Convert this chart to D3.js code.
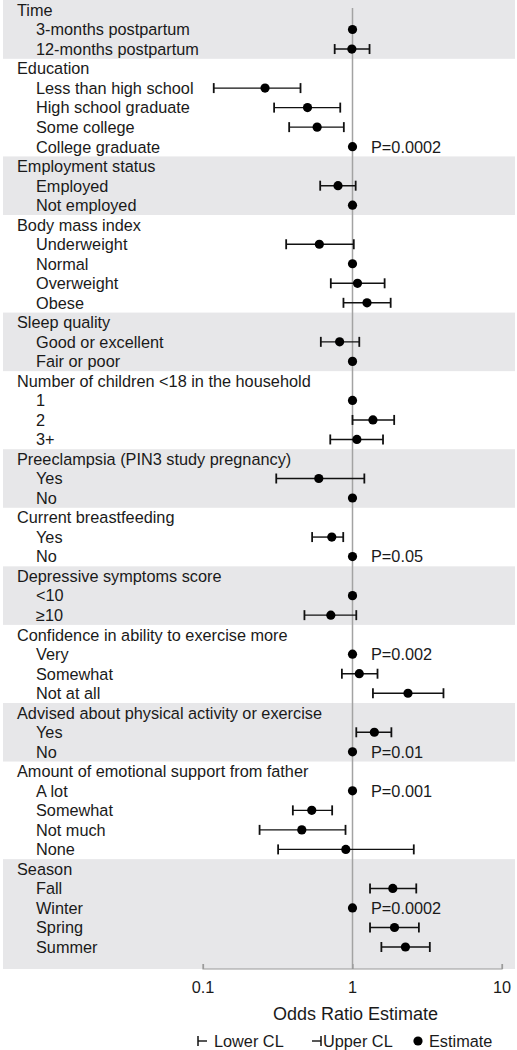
<!DOCTYPE html>
<html><head><meta charset="utf-8">
<script src="https://cdn.jsdelivr.net/npm/d3@7"></script>
<style>
html,body{margin:0;padding:0;background:#fff;}
svg{display:block;font-family:"Liberation Sans",Arial,sans-serif;}
</style></head>
<body><svg id="chart" width="517" height="1050"></svg>
<script>
// Groups (headers) and their items
const groups = [
  "Time","Education","Employment status","Body mass index","Sleep quality",
  "Number of children <18 in the household","Preeclampsia (PIN3 study pregnancy)",
  "Current breastfeeding","Depressive symptoms score","Confidence in ability to exercise more",
  "Advised about physical activity or exercise","Amount of emotional support from father","Season"
];
const groupItems = [
  ["3-months postpartum","12-months postpartum"],
  ["Less than high school","High school graduate","Some college","College graduate"],
  ["Employed","Not employed"],
  ["Underweight","Normal","Overweight","Obese"],
  ["Good or excellent","Fair or poor"],
  ["1","2","3+"],
  ["Yes","No"],
  ["Yes","No"],
  ["<10","≥10"],
  ["Very","Somewhat","Not at all"],
  ["Yes","No"],
  ["A lot","Somewhat","Not much","None"],
  ["Fall","Winter","Spring","Summer"]
];
// Estimates (null CL = reference category)
const estimates = [
  [1, 0.99],
  [0.26, 0.50, 0.58, 1],
  [0.80, 1],
  [0.60, 1, 1.08, 1.25],
  [0.82, 1],
  [1, 1.37, 1.07],
  [0.595, 1],
  [0.727, 1],
  [1, 0.716],
  [1, 1.11, 2.35],
  [1.40, 1],
  [1, 0.534, 0.458, 0.902],
  [1.86, 1, 1.91, 2.26]
];
const lowerCL = [
  [null, 0.76],
  [0.118, 0.299, 0.377, null],
  [0.608, null],
  [0.36, null, 0.716, 0.87],
  [0.614, null],
  [null, 1.0, 0.71],
  [0.309, null],
  [0.537, null],
  [null, 0.477],
  [null, 0.849, 1.37],
  [1.06, null],
  [null, 0.399, 0.239, 0.318],
  [1.31, null, 1.31, 1.56]
];
const upperCL = [
  [null, 1.30],
  [0.449, 0.828, 0.875, null],
  [1.05, null],
  [1.02, null, 1.64, 1.80],
  [1.11, null],
  [null, 1.90, 1.60],
  [1.20, null],
  [0.867, null],
  [null, 1.06],
  [null, 1.47, 4.06],
  [1.82, null],
  [null, 0.731, 0.898, 2.57],
  [2.67, null, 2.78, 3.29]
];
const pValues = [
  [null,null],
  [null,null,null,"P=0.0002"],
  [null,null],
  [null,null,null,null],
  [null,null],
  [null,null,null],
  [null,null],
  [null,"P=0.05"],
  [null,null],
  ["P=0.002",null,null],
  [null,"P=0.01"],
  ["P=0.001",null,null,null],
  [null,"P=0.0002",null,null]
];
const tickValues = [0.1, 1, 10];
const tickLabels = ["0.1","1","10"];
const axisTitle = "Odds Ratio Estimate";
const legendLabels = ["Lower CL","Upper CL","Estimate"];

// Build row table
const rows = [];
groups.forEach((g, gi) => {
  rows.push({type:"header", label:g, group:gi});
  groupItems[gi].forEach((it, ii) => {
    rows.push({type:"item", label:it, group:gi,
      est: estimates[gi][ii], lo: lowerCL[gi][ii], hi: upperCL[gi][ii], p: pValues[gi][ii]});
  });
});
rows.forEach((r,i)=> r.idx = i);

const svg = d3.select("#chart");
const x = d3.scaleLog().domain([0.1, 10]).range([203, 502]);
const y = d3.scalePoint().domain(rows.map(r=>r.idx)).range([10, 947]);
const step = y.step();
const axisY = 969;
const textColor = "#1a1a1a";
const fs = 16.3;

// Shaded bands for alternate groups
const bands = groups.map((g, gi) => {
  const gr = rows.filter(r => r.group === gi);
  const top = gi === 0 ? 0 : y(gr[0].idx) - step/2;
  const bottom = gi === groups.length-1 ? axisY : y(gr[gr.length-1].idx) + step/2;
  return {gi, top, bottom};
}).filter(b => b.gi % 2 === 0);

svg.append("g").selectAll("rect").data(bands).join("rect")
  .attr("x", 3).attr("width", 512)
  .attr("y", d=>d.top).attr("height", d=>d.bottom-d.top)
  .attr("fill", "#e7e7e9");

// Reference line at 1
svg.append("line")
  .attr("x1", x(1)).attr("x2", x(1))
  .attr("y1", 8).attr("y2", axisY)
  .attr("stroke", "#a3a3a3").attr("stroke-width", 1.5);

// Labels
svg.append("g").selectAll("text").data(rows).join("text")
  .attr("x", d => d.type==="header" ? 17 : 36)
  .attr("y", d => y(d.idx))
  .attr("dy", "0.36em")
  .attr("font-size", fs)
  .attr("fill", textColor)
  .text(d => d.label);

const items = rows.filter(r => r.type==="item");
const ci = items.filter(d => d.lo != null);
const g = svg.append("g").attr("stroke", "#111").attr("stroke-width", 1.4);
g.selectAll("line.ci").data(ci).join("line").attr("class","ci")
  .attr("x1", d=>x(d.lo)).attr("x2", d=>x(d.hi))
  .attr("y1", d=>y(d.idx)).attr("y2", d=>y(d.idx));
g.selectAll("line.lo").data(ci).join("line").attr("class","lo")
  .attr("x1", d=>x(d.lo)).attr("x2", d=>x(d.lo))
  .attr("y1", d=>y(d.idx)-5).attr("y2", d=>y(d.idx)+5).attr("stroke-width", 1.8);
g.selectAll("line.hi").data(ci).join("line").attr("class","hi")
  .attr("x1", d=>x(d.hi)).attr("x2", d=>x(d.hi))
  .attr("y1", d=>y(d.idx)-5).attr("y2", d=>y(d.idx)+5).attr("stroke-width", 1.8);

svg.append("g").selectAll("circle").data(items).join("circle")
  .attr("cx", d=>x(d.est)).attr("cy", d=>y(d.idx)).attr("r", 4.6)
  .attr("fill", "#000");

svg.append("g").selectAll("text").data(items.filter(d=>d.p)).join("text")
  .attr("x", 371).attr("y", d=>y(d.idx)).attr("dy","0.36em")
  .attr("font-size", fs).attr("fill", textColor)
  .text(d=>d.p);

// Axis
const axis = d3.axisTop(x).tickValues(tickValues).tickSize(5).tickFormat("");
const ag = svg.append("g").attr("transform", `translate(0,${axisY})`).call(axis);
ag.select(".domain").attr("stroke", "#9a9a9a").attr("stroke-width", 1.2).attr("d", `M${x(0.1)},-5V0H${x(10)}V-5`);
ag.selectAll(".tick line").attr("stroke", "#9a9a9a").attr("stroke-width", 1.2);
svg.append("g").selectAll("text").data(tickValues).join("text")
  .attr("x", d=>x(d)).attr("y", 993).attr("text-anchor","middle")
  .attr("font-size", fs).attr("fill", textColor)
  .text((d,i)=>tickLabels[i]);

svg.append("text").attr("x", x(1)+3).attr("y", 1020).attr("text-anchor","middle")
  .attr("font-size", 18).attr("fill", textColor).text(axisTitle);

// Legend
const ly = 1041;
const leg = svg.append("g");
// lower CL symbol
leg.append("line").attr("x1",198).attr("x2",198).attr("y1",ly-5).attr("y2",ly+5).attr("stroke","#111").attr("stroke-width",1.5);
leg.append("line").attr("x1",198).attr("x2",207).attr("y1",ly).attr("y2",ly).attr("stroke","#111").attr("stroke-width",1.4);
leg.append("text").attr("x",214).attr("y",ly).attr("dy","0.36em").attr("font-size",fs).attr("fill",textColor).text(legendLabels[0]);
// upper CL symbol
leg.append("line").attr("x1",312).attr("x2",321).attr("y1",ly).attr("y2",ly).attr("stroke","#111").attr("stroke-width",1.4);
leg.append("line").attr("x1",321).attr("x2",321).attr("y1",ly-5).attr("y2",ly+5).attr("stroke","#111").attr("stroke-width",1.5);
leg.append("text").attr("x",323).attr("y",ly).attr("dy","0.36em").attr("font-size",fs).attr("fill",textColor).text(legendLabels[1]);
// estimate
leg.append("circle").attr("cx",418).attr("cy",ly).attr("r",4.6).attr("fill","#000");
leg.append("text").attr("x",429).attr("y",ly).attr("dy","0.36em").attr("font-size",fs).attr("fill",textColor).text(legendLabels[2]);
</script></body></html>
